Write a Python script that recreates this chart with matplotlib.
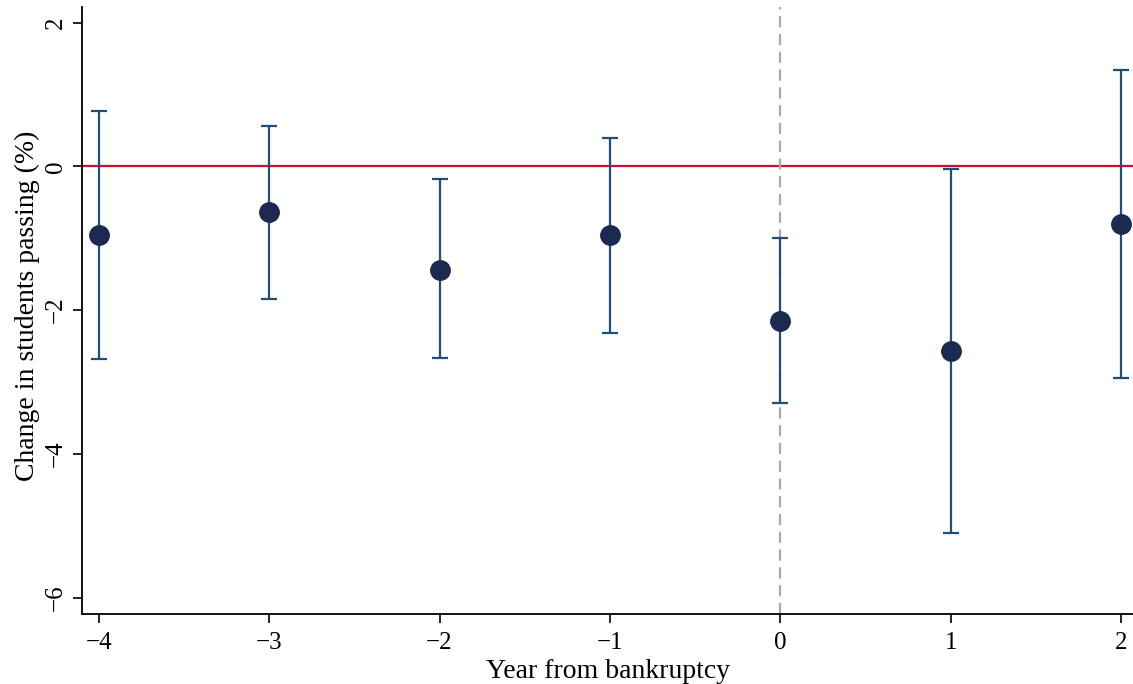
import numpy as np
from matplotlib import pyplot as plt

plt.rcParams['font.family'] = ['Liberation Serif', 'DejaVu Serif']

years = [-4, -3, -2, -1, 0, 1, 2]
coef = [-0.96, -0.64, -1.44, -0.96, -2.15, -2.57, -0.80]
ci_hi = [0.77, 0.56, -0.18, 0.39, -0.99, -0.04, 1.34]
ci_lo = [-2.68, -1.84, -2.66, -2.32, -3.29, -5.10, -2.94]

coef = np.array(coef)
yerr = [coef - np.array(ci_lo), np.array(ci_hi) - coef]

fig = plt.figure(figsize=(11.33, 6.84), dpi=100)
ax = fig.add_axes([0.0724, 0.1023, 0.9276, 0.8875])

ax.axhline(0, color='#c8102e', lw=1.6, zorder=1)
ax.axvline(0, color='#aaaaaa', lw=1.6, ls=(0, (5, 3)), zorder=1)
ax.errorbar(years, coef, yerr=yerr, fmt='none', ecolor='#1f4e79',
            elinewidth=1.6, capsize=6, capthick=1.6, zorder=2)
ax.plot(years, coef, 'o', color='#1c2951', ms=14, zorder=3)

ax.set_xlim(-4.098, 2.07)
ax.set_ylim(-6.23, 2.22)
ax.set_xticks(years)
ax.set_yticks([-6, -4, -2, 0, 2])
ax.tick_params(labelsize=18, length=6.5, width=1.2, direction='out')
ax.tick_params(axis='x', pad=6.5)
ax.tick_params(axis='y', pad=4.5)
for lab in ax.get_yticklabels():
    lab.set_rotation(90)
    lab.set_va('center')
ax.spines['top'].set_visible(False)
ax.spines['right'].set_visible(False)
ax.spines['left'].set_linewidth(1.3)
ax.spines['bottom'].set_linewidth(1.3)
ax.set_xlabel('Year from bankruptcy', fontsize=20, labelpad=3.5)
ax.set_ylabel('Change in students passing (%)', fontsize=20)
ax.yaxis.set_label_coords(-0.040, 0.507)

fig.savefig('out.png', dpi=100)
